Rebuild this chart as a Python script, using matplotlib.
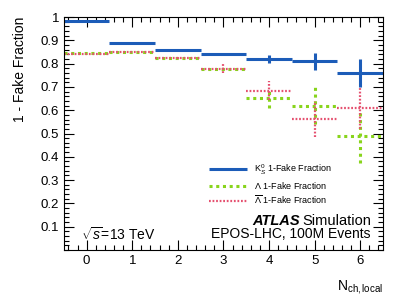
import numpy as np
import matplotlib.pyplot as plt
from matplotlib.ticker import MultipleLocator

plt.rcParams['font.family'] = ['Liberation Sans', 'DejaVu Sans']
plt.rcParams['mathtext.fontset'] = 'custom'
plt.rcParams['mathtext.rm'] = 'Liberation Sans'
plt.rcParams['mathtext.it'] = 'Liberation Sans:italic'

# bins of N_ch,local
nch = np.array([0, 1, 2, 3, 4, 5, 6])

k0s = np.array([0.984, 0.890, 0.857, 0.841, 0.821, 0.810, 0.760])
k0s_err = np.array([0.0, 0.0, 0.0, 0.004, 0.017, 0.036, 0.062])

lam = np.array([0.845, 0.850, 0.824, 0.777, 0.652, 0.619, 0.488])
lam_err = np.array([0.0, 0.0, 0.0, 0.005, 0.043, 0.080, 0.115])

alam = np.array([0.843, 0.849, 0.824, 0.778, 0.684, 0.563, 0.608])
alam_err = np.array([0.0, 0.0, 0.006, 0.020, 0.040, 0.078, 0.088])

fig = plt.figure(figsize=(3.99, 2.99), dpi=100)
ax = fig.add_axes([0.160, 0.164, 0.800, 0.779])


def draw(x, y, err, color, lw, ls, label):
    ax.hlines(y, x - 0.5, x + 0.5, colors=color, linewidth=lw, linestyles=ls, label=label)
    m = err > 0
    ax.vlines(x[m], y[m] - err[m], y[m] + err[m], colors=color, linewidth=lw, linestyles=ls)


draw(nch, lam, lam_err, '#88d41c', 2.2, (0, (1, 1.2)), r'$\mathrm{\Lambda}$ 1-Fake Fraction')
draw(nch, alam, alam_err, '#e5506f', 1.6, (0, (0.8, 0.8)), r'$\overline{\mathrm{\Lambda}}$ 1-Fake Fraction')
draw(nch, k0s, k0s_err, '#1c5cb8', 2.2, 'solid', r'K$^0_S$ 1-Fake Fraction')

ax.set_xlim(-0.5, 6.5)
ax.set_ylim(0, 1)
ax.xaxis.set_major_locator(MultipleLocator(1))
ax.xaxis.set_minor_locator(MultipleLocator(0.2))
ax.yaxis.set_major_locator(MultipleLocator(0.1))
ax.yaxis.set_minor_locator(MultipleLocator(0.02))
ax.tick_params(which='both', direction='in', top=True, right=True, labelsize=9.5, width=0.8)
ax.tick_params(which='major', length=7)
ax.tick_params(which='minor', length=3.5)
ax.set_yticks(np.arange(0.1, 1.01, 0.1))
ax.set_yticklabels(['0.1', '0.2', '0.3', '0.4', '0.5', '0.6', '0.7', '0.8', '0.9', '1'])

ax.set_ylabel('1 - Fake Fraction', fontsize=10, loc='top', labelpad=10)
ax.set_xlabel(r'N$_{\mathrm{ch,local}}$', fontsize=10, loc='right', labelpad=8)

handles, labels = ax.get_legend_handles_labels()
order = [2, 0, 1]
ax.legend([handles[i] for i in order], [labels[i] for i in order],
          loc='upper left', bbox_to_anchor=(0.43, 0.41), frameon=False,
          fontsize=6.5, handlelength=4.2, labelspacing=0.32)

ax.text(0.741, 0.107, 'ATLAS', transform=ax.transAxes, fontsize=10.5,
        fontweight='bold', fontstyle='italic', ha='right', va='baseline')
ax.text(0.962, 0.107, 'Simulation', transform=ax.transAxes, fontsize=10.5, ha='right', va='baseline')
ax.text(0.962, 0.052, 'EPOS-LHC, 100M Events', transform=ax.transAxes, fontsize=10,
        ha='right', va='baseline')
ax.text(0.055, 0.045, r'$\sqrt{s}$=13 TeV', transform=ax.transAxes, fontsize=10, va='baseline')

fig.savefig('out.png', dpi=100)
